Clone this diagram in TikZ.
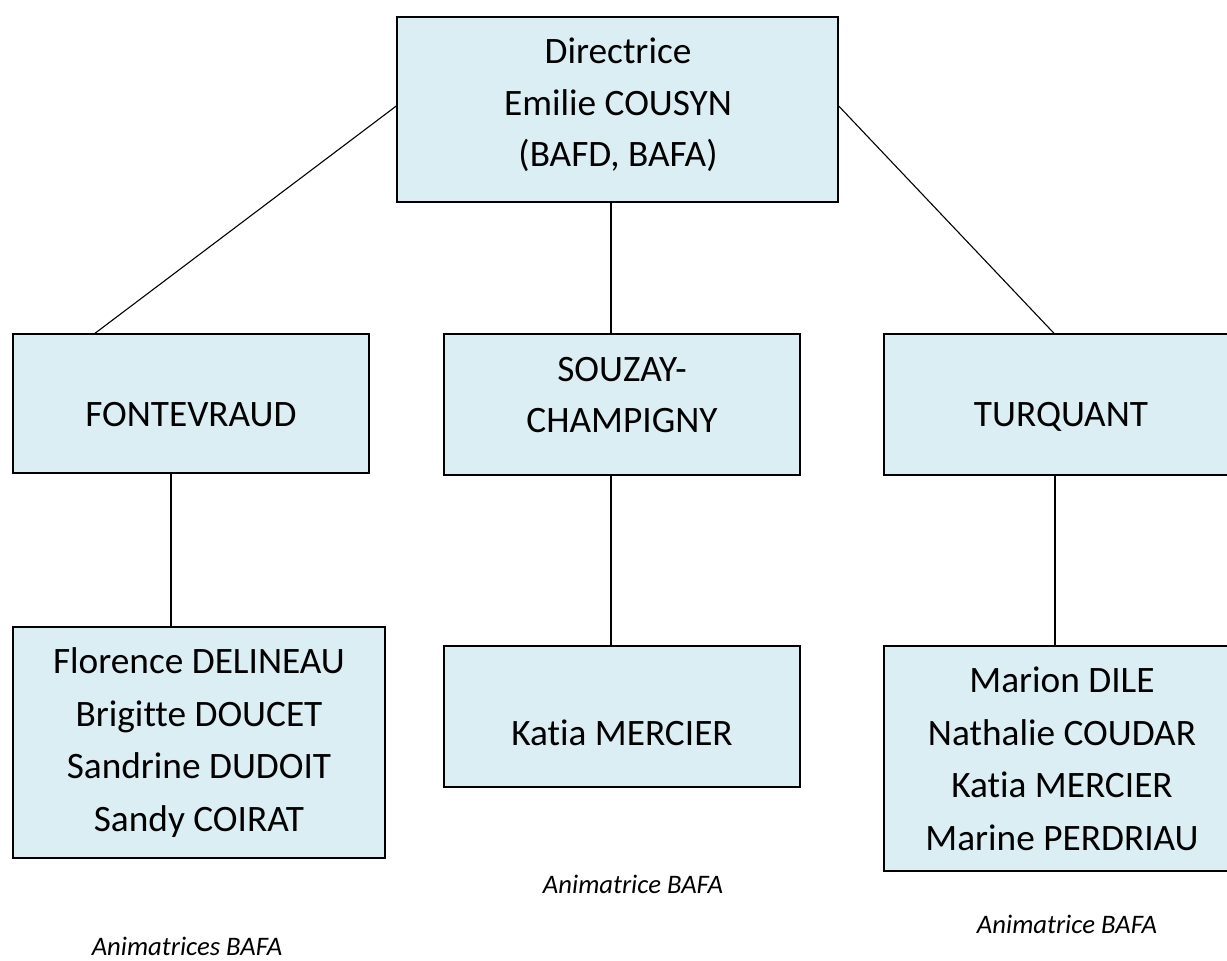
\documentclass[tikz,border=0pt]{standalone}
\usepackage{fontspec}
\setmainfont{Carlito}[Ligatures=NoCommon]
\definecolor{boxfill}{HTML}{DBEEF4}
\begin{document}
\begin{tikzpicture}[x=1pt,y=-1pt,
  box/.style={draw=black,line width=1.4pt,fill=boxfill,inner sep=0pt},
  txt/.style={font=\fontsize{37.3}{53}\selectfont,align=center,inner sep=0pt,anchor=base},
  note/.style={font=\fontsize{26.7}{30}\selectfont\itshape,inner sep=0pt,anchor=base},
  link/.style={draw=black,line width=1.1pt}]
\clip (0,0) rectangle (1227,961);
\fill[white] (0,0) rectangle (1227,961);
% boxes
\node[box,minimum width=441pt,minimum height=185pt] (dir) at (617.5,109.5) {};
\node[box,minimum width=356pt,minimum height=139pt] (fon) at (191,403.5) {};
\node[box,minimum width=356pt,minimum height=141pt] (sou) at (622,404.5) {};
\node[box,minimum width=356pt,minimum height=141pt] (tur) at (1062,404.5) {};
\node[box,minimum width=372pt,minimum height=231pt] (fonp) at (199,742.5) {};
\node[box,minimum width=356pt,minimum height=141pt] (soup) at (622,716.5) {};
\node[box,minimum width=356pt,minimum height=225pt] (turp) at (1062,758.5) {};
% connectors
\coordinate (dl) at (dir.west |- 0,106);
\coordinate (dr) at (dir.east |- 0,106);
\draw[link] (dl) -- (fon.north -| 95,0);
\draw[link] (dr) -- (tur.north -| 1054,0);
\draw[link] (dir.south -| 611,0) -- (sou.north -| 611,0);
\draw[link] (fon.south -| 171,0) -- (fonp.north -| 171,0);
\draw[link] (sou.south -| 611,0) -- (soup.north -| 611,0);
\draw[link] (tur.south -| 1055,0) -- (turp.north -| 1055,0);
% texts
\node[txt] (t1) at (618,63) {Directrice};
\node[txt] (t2) at (618,115) {Emilie COUSYN};
\node[txt] (t3) at (618,166) {(BAFD, BAFA)};
\node[txt] (t4) at (191,426) {FONTEVRAUD};
\node[txt] (t5) at (622,381) {SOUZAY-};
\node[txt] (t6) at (622,432) {CHAMPIGNY};
\node[txt] (t7) at (1061,426) {TURQUANT};
\node[txt] (f1) at (199,673) {Florence DELINEAU};
\node[txt] (f2) at (199,726) {Brigitte DOUCET};
\node[txt] (f3) at (199,778) {Sandrine DUDOIT};
\node[txt] (f4) at (199,831) {Sandy COIRAT};
\node[txt] (s1) at (622,745) {Katia MERCIER};
\node[txt] (m1) at (1062,692) {Marion DILE};
\node[txt] (m2) at (1062,745) {Nathalie COUDAR};
\node[txt] (m3) at (1062,797) {Katia MERCIER};
\node[txt] (m4) at (1062,850) {Marine PERDRIAU};
\node[note] (n1) at (633,893) {Animatrice BAFA};
\node[note] (n2) at (1067,933) {Animatrice BAFA};
\node[note] (n3) at (187,955) {Animatrices BAFA};
\end{tikzpicture}
\end{document}
